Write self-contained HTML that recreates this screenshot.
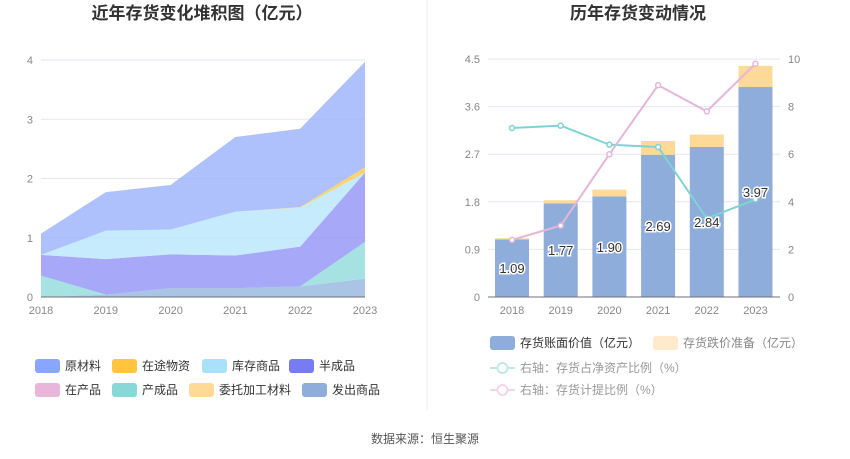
<!DOCTYPE html>
<html><head><meta charset="utf-8"><style>
html,body{margin:0;padding:0;background:#fff;}
svg{display:block;font-family:"Liberation Sans","Noto Sans CJK SC",sans-serif;}
</style></head><body>
<svg id="c" width="850" height="459" viewBox="0 0 850 459">
<text x="202" y="19" text-anchor="middle" font-size="17" font-weight="bold" fill="#333">近年存货变化堆积图（亿元）</text>
<text x="638" y="19" text-anchor="middle" font-size="17" font-weight="bold" fill="#333">历年存货变动情况</text>
<line x1="427" y1="0" x2="427" y2="410" stroke="#eee"/>
<text x="425" y="443" text-anchor="middle" font-size="12" fill="#555">数据来源：恒生聚源</text>
<g id="left"></g><g id="right"></g><g id="legends"></g>
</svg>
<script>
const years=["2018","2019","2020","2021","2022","2023"];
const faChu=[0,0.04,0.15,0.15,0.18,0.31];
const chanCheng=[0.36,0,0,0,0,0.62];
const weiTuo=[0,0,0,0,0,0];
const zaiChan=[0,0,0,0,0,0];
const banCheng=[0.35,0.60,0.57,0.55,0.67,1.17];
const kuCun=[0,0.48,0.42,0.74,0.66,0];
const zaiTu=[0,0,0,0,0.01,0.09];
const yuanCai=[0.36,0.65,0.75,1.26,1.32,1.78];
const leftTicks=[0,1,2,3,4];
const bookVal=[1.09,1.77,1.90,2.69,2.84,3.97];
const provision=[0.02,0.06,0.13,0.26,0.23,0.40];
const ratioNet=[7.1,7.2,6.4,6.3,3.3,4.1];
const ratioProv=[2.4,3.0,6.0,8.9,7.8,9.8];
const rightTicksL=[0,0.9,1.8,2.7,3.6,4.5];
const rightTicksR=[0,2,4,6,8,10];
const NS="http://www.w3.org/2000/svg";
function mk(p,t,a){const e=document.createElementNS(NS,t);for(const k in a)e.setAttribute(k,a[k]);p.appendChild(e);return e;}
// left chart
const L=document.getElementById('left');
const lx=i=>41+i*64.8, ly=v=>297-v*59.25;
leftTicks.forEach(t=>{const g=mk(L,'line',{x1:41,x2:365,y1:ly(t),y2:ly(t),stroke:t?'#e3e7f3':'#6e7079'});
const tx=mk(L,'text',{x:33,y:ly(t)+4,'text-anchor':'end','font-size':11,fill:'#888'});tx.textContent=t;});
years.forEach((y,i)=>{const tx=mk(L,'text',{x:lx(i),y:314,'text-anchor':'middle','font-size':11,fill:'#888'});tx.textContent=y;});
const series=[[faChu,'#8eb0dc','fachu'],[chanCheng,'#8ad8d8','chancheng'],[weiTuo,'#ffd88e','weituo'],[zaiChan,'#e8b8d8','zaichan'],[banCheng,'#8a8cf5','bancheng'],[kuCun,'#b2e4fb','kucun'],[zaiTu,'#ffc43d','zaitu'],[yuanCai,'#93acfc','yuancai']];
let base=years.map(()=>0);
series.forEach(([d,c,n])=>{const top=base.map((b,i)=>b+d[i]);
let pts=top.map((v,i)=>lx(i)+','+ly(v)).join(' ')+' '+base.map((v,i)=>lx(i)+','+ly(v)).reverse().join(' ');
const p=mk(L,'polygon',{points:pts,fill:c,'fill-opacity':0.75});base=top;});
mk(L,'line',{x1:41,x2:365,y1:297,y2:297,stroke:'#6e7079'});
// right chart
const R=document.getElementById('right');
const rx=i=>512+i*48.7, ryL=v=>297-v*(238/4.5), ryR=v=>297-v*23.8;
rightTicksL.forEach((t,k)=>{const g=mk(R,'line',{x1:488,x2:780,y1:ryL(t),y2:ryL(t),stroke:'#e3e7f3'});
const tx=mk(R,'text',{x:480,y:ryL(t)+4,'text-anchor':'end','font-size':11,fill:'#888'});tx.textContent=t===0?'0':t.toFixed(1);
const t2=mk(R,'text',{x:788,y:ryR(rightTicksR[k])+4,'font-size':11,fill:'#888'});t2.textContent=rightTicksR[k];});
years.forEach((y,i)=>{const tx=mk(R,'text',{x:rx(i),y:314,'text-anchor':'middle','font-size':11,fill:'#888'});tx.textContent=y;
const b=mk(R,'rect',{x:rx(i)-17,y:ryL(bookVal[i]),width:34,height:297-ryL(bookVal[i]),fill:'#8eaddb'});
const p=mk(R,'rect',{x:rx(i)-17,y:ryL(bookVal[i]+provision[i]),width:34,height:ryL(bookVal[i])-ryL(bookVal[i]+provision[i]),fill:'#ffd996'});});
mk(R,'line',{x1:488,x2:780,y1:297,y2:297,stroke:'#6e7079'});
[[ratioNet,'#7fd3d3','line-net-asset-ratio'],[ratioProv,'#e6b5da','line-provision-ratio']].forEach(([d,c,n])=>{
const pl=mk(R,'polyline',{points:d.map((v,i)=>rx(i)+','+ryR(v)).join(' '),fill:'none',stroke:c,'stroke-width':2});
d.forEach((v,i)=>{const ci=mk(R,'circle',{cx:rx(i),cy:ryR(v),r:2.5,fill:'#fff',stroke:c,'stroke-width':1.5});});});
bookVal.forEach((v,i)=>{const tx=mk(R,'text',{x:rx(i),y:ryL(v)+(297-ryL(v))/2+5,'text-anchor':'middle','font-size':13,fill:'#333',stroke:'#fff','stroke-width':3,'paint-order':'stroke'});tx.textContent=v.toFixed(2);});
// legends
const G=document.getElementById('legends');
const leg=[['原材料','#88a6fd',35,366],['在途物资','#ffc53d',112,366],['库存商品','#a9e1fb',202,366],['半成品','#797bf3',289,366],['在产品','#e8b6d8',35,390],['产成品','#88d8d8',112,390],['委托加工材料','#ffd995',189,390],['发出商品','#8eaddb',302,390]];
leg.forEach(([t,c,x,y])=>{const r=mk(G,'rect',{x:x,y:y-7,width:25,height:14,rx:3,fill:c});
const tx=mk(G,'text',{x:x+30,y:y+4,'font-size':12,fill:'#333'});tx.textContent=t;});
[['存货账面价值（亿元）','#8eaddb',490,343,'#333'],['存货跌价准备（亿元）','#ffebcc',653,343,'#888']].forEach(([t,c,x,y,f])=>{const r=mk(G,'rect',{x:x,y:y-7,width:25,height:14,rx:3,fill:c});
const tx=mk(G,'text',{x:x+30,y:y+4,'font-size':12,fill:f});tx.textContent=t;});
[['右轴：存货占净资产比例（%）','#bfe9e9',368],['右轴：存货计提比例（%）','#f2d6ea',390]].forEach(([t,c,y])=>{mk(G,'line',{x1:490,x2:515,y1:y,y2:y,stroke:c,'stroke-width':2});
const ci=mk(G,'circle',{cx:502.5,cy:y,r:5,fill:'#fff',stroke:c,'stroke-width':2});
const tx=mk(G,'text',{x:520,y:y+4,'font-size':12,fill:'#999'});tx.textContent=t;});
</script>
</body></html>
